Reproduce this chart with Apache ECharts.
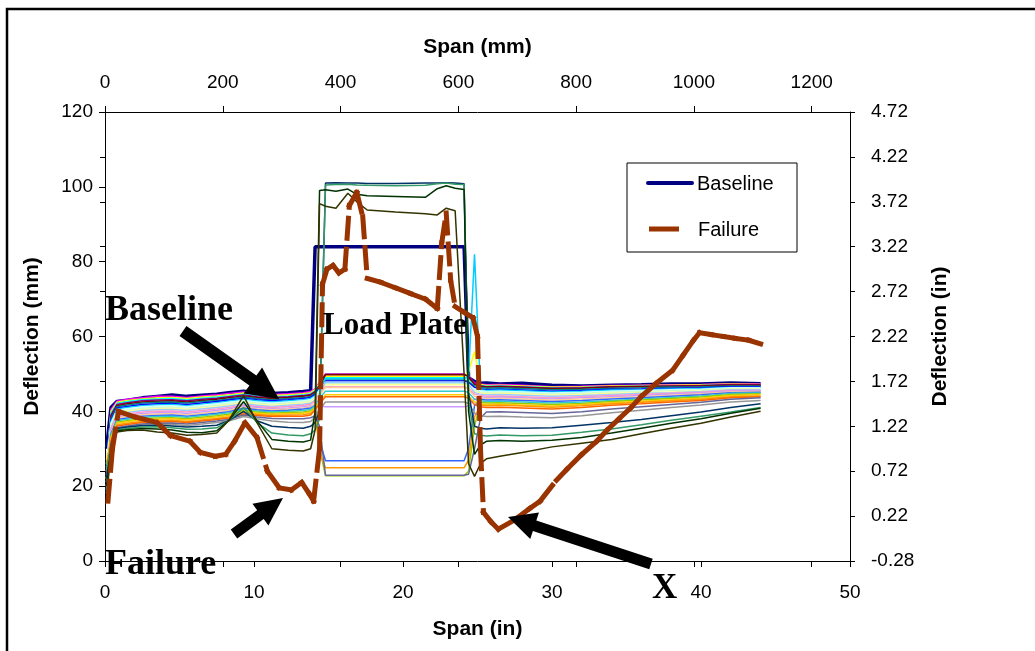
<!DOCTYPE html>
<html>
<head>
<meta charset="utf-8">
<script src="https://cdn.jsdelivr.net/npm/echarts@6/dist/echarts.min.js"></script>
<style>
  html, body { margin: 0; padding: 0; background: #fff; }
  #chart { width: 1035px; height: 651px; }
</style>
</head>
<body>
<div id="chart"></div>
<script>
// Span positions (in) shared by the baseline and the intermediate passes
const spanIn = [0.1, 0.4, 0.8, 1.5, 2.5, 3.5, 4.5, 5.5, 6.5, 7.5, 8.3, 9.3, 10.2, 11.2, 12.3, 13.3, 13.8, 14.1, 14.4, 14.8,
  15.5, 16.3, 16.9, 17.6, 19.5, 21.5, 22.3, 22.9, 23.5, 24.1, 24.4, 24.8, 25.2, 25.6, 26.5, 28.0, 30.0, 32.0, 34.0, 36.0,
  38.0, 40.0, 42.0, 44.0];

// Deflection (mm)
const baselineDefl = [30, 41, 42.6, 43.0, 43.6, 44.0, 44.4, 44.0, 44.3, 44.6, 45.0, 45.4, 45.0, 44.8, 45.0, 45.3, 45.5,
  84, 84, 84, 84, 84, 84, 84, 84, 84, 84, 84, 84, 84, 49, 48,
  47.5, 47.6, 47.3, 47.5, 47.0, 46.8, 47.0, 47.1, 47.3, 47.3, 47.6, 47.4];

const trace02 = [24, 40.5, 42.7, 43.2, 43.6, 44.0, 44.0, 43.7, 44.1, 44.4, 44.8, 45.2, 44.8, 44.5, 44.7, 45.0, 45.3, 46.0, 47.8,
  49.9, 49.9, 49.9, 49.9, 49.9, 49.9, 49.9, 49.9, 49.9, 49.9, 49.9, 49.4, 47.6,
  47.3, 47.1, 47.2, 47.0, 46.6, 46.7, 46.9, 47.0, 47.1, 47.2, 47.4, 47.3];
const trace03 = [22, 40.0, 42.4, 42.9, 43.3, 43.6, 43.7, 43.4, 43.8, 44.1, 44.4, 44.9, 44.5, 44.2, 44.4, 44.7, 45.0, 45.8, 47.5,
  49.4, 49.4, 49.4, 49.4, 49.4, 49.4, 49.4, 49.4, 49.4, 49.4, 49.4, 50.5, 56.0,
  47.2, 46.9, 47.0, 46.8, 46.5, 46.6, 46.8, 46.9, 47.0, 47.1, 47.3, 47.2];
const trace04 = [26, 39.5, 42.1, 42.6, 43.1, 43.3, 43.4, 43.1, 43.5, 43.8, 44.1, 44.6, 44.2, 43.9, 44.1, 44.4, 44.7, 45.5, 47.2,
  49.0, 49.0, 49.0, 49.0, 49.0, 49.0, 49.0, 49.0, 49.0, 49.0, 49.0, 48.5, 47.2,
  46.9, 46.7, 46.8, 46.6, 46.3, 46.4, 46.6, 46.7, 46.8, 46.9, 47.1, 47.0];
const trace05 = [20, 39.0, 41.8, 42.3, 42.8, 43.0, 43.1, 42.8, 43.2, 43.5, 43.9, 44.4, 43.9, 43.7, 43.9, 44.2, 44.5, 45.3, 47.0,
  49.9, 49.9, 49.9, 49.9, 49.9, 49.9, 49.9, 49.9, 49.9, 49.9, 49.9, 49.3, 47.4,
  46.8, 46.6, 46.7, 46.5, 46.2, 46.3, 46.6, 46.7, 46.8, 46.9, 47.2, 47.1];
const trace06 = [23, 38.5, 41.5, 42.0, 42.5, 42.7, 42.8, 42.5, 42.9, 43.2, 43.6, 44.1, 43.7, 43.4, 43.7, 44.0, 44.3, 45.1, 46.8,
  49.8, 49.8, 49.8, 49.8, 49.8, 49.8, 49.8, 49.8, 49.8, 49.8, 49.8, 49.2, 47.2,
  46.7, 46.5, 46.6, 46.4, 46.1, 46.2, 46.5, 46.6, 46.7, 46.8, 47.0, 47.0];
const trace07 = [21, 38.0, 41.2, 41.7, 42.2, 42.4, 42.5, 42.2, 42.6, 42.9, 43.3, 43.8, 43.4, 43.1, 43.4, 43.7, 44.0, 44.8, 46.5,
  48.4, 48.4, 48.4, 48.4, 48.4, 48.4, 48.4, 48.4, 48.4, 48.4, 48.4, 47.9, 46.8,
  46.4, 46.2, 46.3, 46.1, 45.8, 45.9, 46.2, 46.3, 46.5, 46.6, 46.8, 46.8];
const trace08 = [25, 37.6, 40.9, 41.3, 41.8, 42.0, 42.1, 41.8, 42.2, 42.6, 43.0, 43.5, 43.1, 42.8, 43.1, 43.4, 43.7, 44.5, 46.3,
  48.1, 48.1, 48.1, 48.1, 48.1, 48.1, 48.1, 48.1, 48.1, 48.1, 48.1, 47.6, 46.4,
  46.0, 45.8, 45.9, 45.7, 45.4, 45.6, 45.9, 46.0, 46.2, 46.3, 46.6, 46.6];
const trace09 = [19, 37.2, 40.6, 41.0, 41.5, 41.7, 41.8, 41.5, 41.9, 42.3, 42.7, 43.2, 42.8, 42.5, 42.8, 43.1, 43.4, 44.2, 46.0,
  48.7, 48.7, 48.7, 48.7, 48.7, 48.7, 48.7, 48.7, 48.7, 48.7, 48.7, 49.5, 82.0,
  45.8, 45.6, 45.7, 45.5, 45.2, 45.4, 45.7, 45.8, 46.0, 46.1, 46.4, 46.4];
const trace10 = [24, 36.8, 40.3, 40.7, 41.2, 41.4, 41.5, 41.2, 41.6, 42.0, 42.4, 42.9, 42.5, 42.2, 42.5, 42.8, 43.1, 43.9, 45.7,
  47.8, 47.8, 47.8, 47.8, 47.8, 47.8, 47.8, 47.8, 47.8, 47.8, 47.8, 47.3, 45.8,
  45.5, 45.3, 45.4, 45.2, 44.9, 45.1, 45.4, 45.6, 45.8, 45.9, 46.3, 46.3];
const trace11 = [22, 36.4, 39.9, 40.3, 40.8, 41.0, 41.1, 40.8, 41.2, 41.6, 42.0, 42.6, 42.2, 41.9, 42.2, 42.5, 42.8, 43.6, 45.4,
  47.4, 47.4, 47.4, 47.4, 47.4, 47.4, 47.4, 47.4, 47.4, 47.4, 47.4, 46.9, 45.5,
  45.2, 45.0, 45.1, 44.9, 44.6, 44.8, 45.1, 45.3, 45.5, 45.7, 46.1, 46.1];
const trace12 = [27, 36.0, 39.6, 40.0, 40.5, 40.7, 40.8, 40.5, 40.9, 41.3, 41.7, 42.3, 41.9, 41.6, 41.9, 42.2, 42.5, 43.3, 45.1,
  47.1, 47.1, 47.1, 47.1, 47.1, 47.1, 47.1, 47.1, 47.1, 47.1, 47.1, 46.6, 45.2,
  44.9, 44.7, 44.8, 44.6, 44.3, 44.5, 44.8, 45.0, 45.2, 45.5, 45.9, 45.9];
const trace13 = [20, 35.6, 39.3, 39.7, 40.2, 40.4, 40.5, 40.2, 40.6, 41.0, 41.4, 42.0, 41.6, 41.3, 41.6, 41.9, 42.2, 43.0, 44.8,
  47.7, 47.7, 47.7, 47.7, 47.7, 47.7, 47.7, 47.7, 47.7, 47.7, 47.7, 47.2, 45.0,
  44.6, 44.4, 44.5, 44.3, 44.0, 44.2, 44.5, 44.8, 45.0, 45.3, 45.8, 45.8];
const trace14 = [23, 35.2, 38.9, 39.3, 39.8, 40.0, 40.1, 39.8, 40.2, 40.6, 41.0, 41.7, 41.3, 41.0, 41.3, 41.6, 41.9, 42.7, 44.5,
  46.6, 46.6, 46.6, 46.6, 46.6, 46.6, 46.6, 46.6, 46.6, 46.6, 46.6, 46.1, 44.6,
  44.2, 44.0, 44.1, 43.9, 43.6, 43.9, 44.2, 44.5, 44.8, 45.1, 45.6, 45.6];
const trace15 = [18, 34.8, 38.5, 38.9, 39.4, 39.6, 39.7, 39.4, 39.8, 40.2, 40.6, 41.4, 41.0, 40.7, 40.9, 41.2, 41.5, 41.5, 41.4,
  41.2, 41.2, 41.2, 41.2, 41.2, 41.2, 41.2, 41.2, 41.2, 41.2, 41.2, 41.5, 43.2,
  43.9, 43.7, 43.8, 43.6, 43.3, 43.6, 43.9, 44.2, 44.6, 44.9, 45.4, 45.5];
const trace16 = [25, 34.4, 38.2, 38.6, 39.1, 39.3, 39.4, 39.1, 39.5, 39.9, 40.3, 41.1, 40.7, 40.4, 40.6, 40.9, 41.2, 42.2, 44.2,
  46.4, 46.4, 46.4, 46.4, 46.4, 46.4, 46.4, 46.4, 46.4, 46.4, 46.4, 45.9, 44.0,
  43.6, 43.4, 43.5, 43.3, 43.0, 43.3, 43.6, 43.9, 44.3, 44.7, 45.2, 45.3];
const trace17 = [21, 34.0, 37.8, 38.2, 38.7, 38.9, 39.0, 38.7, 39.1, 39.5, 39.9, 40.8, 40.4, 40.1, 40.3, 40.6, 40.9, 41.5, 32.0,
  26.8, 26.8, 26.8, 26.8, 26.8, 26.8, 26.8, 26.8, 26.8, 26.8, 26.8, 30.0, 41.5,
  43.2, 43.0, 43.1, 42.9, 42.6, 42.9, 43.3, 43.6, 44.0, 44.4, 45.0, 45.1];
const trace18 = [19, 33.6, 37.5, 37.9, 38.4, 38.6, 38.7, 38.4, 38.8, 39.2, 39.6, 40.5, 40.1, 39.8, 40.0, 40.2, 40.5, 41.5, 43.5,
  45.4, 45.4, 45.4, 45.4, 45.4, 45.4, 45.4, 45.4, 45.4, 45.4, 45.4, 45.0, 43.2,
  42.8, 42.6, 42.7, 42.5, 42.2, 42.5, 42.9, 43.3, 43.7, 44.1, 44.8, 44.9];
const trace19 = [24, 33.2, 37.1, 37.5, 38.0, 38.2, 38.3, 38.0, 38.4, 38.8, 39.2, 40.2, 39.8, 39.5, 39.7, 39.8, 40.1, 41.0, 30.0,
  22.8, 22.8, 22.8, 22.8, 22.8, 22.8, 22.8, 22.8, 22.8, 22.8, 22.8, 24.0, 36.0,
  42.4, 42.2, 42.3, 42.1, 41.8, 42.1, 42.6, 43.0, 43.4, 43.8, 44.5, 44.7];
const trace20 = [22, 32.8, 36.8, 37.2, 37.7, 37.9, 38.0, 37.7, 38.1, 38.5, 38.9, 39.9, 39.5, 39.2, 39.4, 39.5, 39.8, 40.8, 42.6,
  44.4, 44.4, 44.4, 44.4, 44.4, 44.4, 44.4, 44.4, 44.4, 44.4, 44.4, 44.0, 42.5,
  42.0, 41.8, 41.9, 41.7, 41.4, 41.8, 42.3, 42.7, 43.1, 43.5, 44.2, 44.4];
const trace21 = [26, 32.4, 36.4, 36.8, 37.3, 37.5, 37.6, 37.3, 37.7, 38.1, 38.5, 39.6, 39.2, 38.9, 39.0, 39.1, 39.4, 40.2, 29.0,
  24.9, 24.9, 24.9, 24.9, 24.9, 24.9, 24.9, 24.9, 24.9, 24.9, 24.9, 27.0, 38.5,
  41.7, 41.5, 41.6, 41.4, 41.1, 41.5, 42.0, 42.4, 42.8, 43.2, 43.9, 44.1];
const trace22 = [20, 32.0, 36.1, 36.5, 37.0, 37.2, 37.3, 37.0, 37.4, 37.8, 38.2, 39.3, 38.9, 38.6, 38.7, 38.7, 39.0, 40.5, 42.0,
  43.9, 43.9, 43.9, 43.9, 43.9, 43.9, 43.9, 43.9, 43.9, 43.9, 43.9, 43.5, 41.8,
  41.2, 41.0, 41.1, 40.9, 40.6, 41.0, 41.6, 42.0, 42.5, 42.9, 43.6, 43.9];
const trace23 = [23, 31.6, 35.7, 36.1, 36.6, 36.8, 36.9, 36.6, 37.0, 37.4, 37.8, 39.0, 38.5, 38.1, 38.0, 38.0, 38.3, 38.8, 36.0,
  22.9, 22.9, 22.9, 22.9, 22.9, 22.9, 22.9, 22.9, 22.9, 22.9, 22.9, 23.2, 30.0,
  38.2, 39.8, 39.9, 39.7, 39.4, 39.9, 40.6, 41.2, 41.8, 42.4, 43.2, 43.6];
const trace24 = [21, 31.2, 35.3, 35.7, 36.2, 36.4, 36.5, 36.2, 36.6, 37.0, 37.4, 38.6, 38.0, 37.4, 37.1, 37.0, 37.3, 38.5, 40.5,
  42.5, 42.5, 42.5, 42.5, 42.5, 42.5, 42.5, 42.5, 42.5, 42.5, 42.5, 42.1, 39.5,
  38.8, 38.6, 38.7, 38.5, 38.3, 38.8, 39.6, 40.3, 41.0, 41.7, 42.5, 42.9];
const trace25 = [22, 31, 35.4, 35.8, 36.2, 36.3, 36.1, 35.8, 36.0, 36.3, 37.5, 40.0, 37.5, 36.0, 35.7, 35.5, 36.0, 37.0, 40.0,
  101.0, 101.1, 101.0, 101.0, 100.9, 100.9, 101.0, 101.0, 101.1, 101.0, 100.8, 45.0, 36.0,
  35.5, 35.3, 35.6, 35.5, 35.6, 36.3, 37.0, 37.8, 38.8, 39.8, 41.0, 42.0];
const trace26 = [25, 30.5, 35.0, 35.4, 35.8, 35.9, 35.6, 35.2, 35.3, 35.6, 37.5, 41.0, 37.0, 34.2, 33.7, 33.5, 34.0, 35.0, 38.0,
  100.5, 100.6, 100.7, 100.5, 100.4, 100.3, 100.4, 100.8, 101.0, 100.7, 100.6, 42.0, 34.0,
  33.6, 33.4, 33.7, 33.5, 33.6, 34.4, 35.3, 36.4, 37.6, 38.7, 39.8, 41.0];
const trace27 = [20, 30, 34.8, 35.1, 35.4, 35.3, 35.0, 34.4, 34.3, 34.8, 37.5, 42.6, 37.5, 32.5, 32.0, 31.8, 32.3, 40.0, 99.0,
  99.2, 98.8, 99.4, 98.0, 97.6, 97.4, 97.2, 99.5, 100.3, 99.6, 99.3, 40.0, 28.5,
  31.0, 32.0, 32.2, 32.0, 32.3, 33.0, 34.2, 35.5, 36.8, 38.0, 39.5, 40.8];
const trace28 = [17, 29, 34.5, 34.9, 35.0, 34.5, 34.2, 33.6, 33.8, 34.2, 37.5, 44.2, 37.0, 30.0, 29.6, 29.4, 30.0, 35.0, 95.5,
  94.8, 94.3, 98.3, 96.0, 93.8, 93.3, 92.8, 92.5, 94.3, 93.6, 50.0, 26.0, 22.6,
  26.0, 27.3, 28.0, 29.0, 30.5, 31.5, 32.5, 34.0, 35.5, 36.8, 38.5, 40.0];

// Failure pass: its own span stations (in) and deflections (mm)
const failureSpan = [0.2, 0.5, 0.9, 2.0, 3.5, 4.4, 5.7, 6.4, 7.4, 8.1, 8.7, 9.4, 10.2, 10.9, 11.7, 12.5, 13.2, 13.7, 14.0,
  14.4, 14.6, 14.9, 15.3, 15.7, 16.1, 16.4, 16.9, 17.3, 17.6, 18.5, 19.5, 20.5, 21.5, 22.3, 22.6, 22.9, 23.2, 23.5, 24.1,
  24.7, 25.0, 25.2, 25.4, 25.9, 26.4, 27.5, 28.5, 29.2, 30.3, 31.0, 32.0, 33.0, 33.7, 34.5, 35.3, 36.0, 37.0, 38.1, 38.8,
  39.5, 39.9, 40.7, 41.5, 42.3, 43.2, 44.0];
const failureDefl = [16, 30, 40, 38.5, 37, 33.5, 32, 29, 28, 28.5, 32, 37, 33, 24, 19.5, 19, 21, 18, 16,
  30, 74, 78, 79, 77, 78, 95, 98.5, 92, 75.5, 74.5, 73, 71.5, 70, 67.5, 85, 93, 75, 68, 66.5,
  65, 60, 30, 13, 10.5, 8.5, 11, 14, 16, 21.6, 24.5, 28.5, 32, 35, 38, 41, 44, 47.5, 51, 55,
  59, 61, 60.5, 60, 59.5, 59, 58];

// Axis tick labels
const spanInTicks = [0, 10, 20, 30, 40, 50];
const spanMmTicks = [0, 200, 400, 600, 800, 1000, 1200];
const deflMmTicks = [0, 20, 40, 60, 80, 100, 120];
const deflInTicks = ['-0.28', '0.22', '0.72', '1.22', '1.72', '2.22', '2.72', '3.22', '3.72', '4.22', '4.72'];

const traceColors = ['#FF00FF', '#FFFF00', '#00FFFF', '#800080', '#800000', '#008080', '#0000FF', '#00CCFF', '#CCFFFF',
  '#CCFFCC', '#FFFF99', '#99CCFF', '#FF99CC', '#CC99FF', '#FFCC99', '#3366FF', '#33CCCC', '#99CC00', '#FFCC00', '#FF9900',
  '#FF6600', '#666699', '#969696', '#003366', '#339966', '#003300', '#333300'];
const traces = [trace02, trace03, trace04, trace05, trace06, trace07, trace08, trace09, trace10, trace11, trace12, trace13,
  trace14, trace15, trace16, trace17, trace18, trace19, trace20, trace21, trace22, trace23, trace24, trace25, trace26,
  trace27, trace28];

const SANS = '"Liberation Sans", Arial, sans-serif';
const SERIF = '"Liberation Serif", "Times New Roman", serif';

function pairs(xs, ys) { return xs.map((x, i) => [x, ys[i]]); }

const failureSegments = failureSpan.slice(0, -1).map((x, i) =>
  [x, failureDefl[i], failureSpan[i + 1], failureDefl[i + 1]]);

// block arrow outline from tail to tip
function arrowPoints(tail, tip, shaftW, headL, headW) {
  const dx = tip[0] - tail[0], dy = tip[1] - tail[1];
  const len = Math.hypot(dx, dy);
  const ux = dx / len, uy = dy / len, px = -uy, py = ux;
  const bx = tip[0] - ux * headL, by = tip[1] - uy * headL;
  return [
    [tail[0] + px * shaftW / 2, tail[1] + py * shaftW / 2],
    [bx + px * shaftW / 2, by + py * shaftW / 2],
    [bx + px * headW / 2, by + py * headW / 2],
    [tip[0], tip[1]],
    [bx - px * headW / 2, by - py * headW / 2],
    [bx - px * shaftW / 2, by - py * shaftW / 2],
    [tail[0] - px * shaftW / 2, tail[1] - py * shaftW / 2]
  ];
}
function arrow(tail, tip, shaftW, headL, headW) {
  return { type: 'polygon', z: 100, shape: { points: arrowPoints(tail, tip, shaftW, headL, headW) }, style: { fill: '#000' } };
}
function label(text, x, y, size) {
  return { type: 'text', z: 100, x: x, y: y,
    style: { text: text, font: 'bold ' + size + 'px ' + SERIF, fill: '#000', verticalAlign: 'middle', align: 'left' } };
}

const tickFont = { fontFamily: SANS, fontSize: 19, color: '#000' };
const titleFont = { fontFamily: SANS, fontSize: 21, fontWeight: 'bold', color: '#000' };
const axisLine = { show: true, onZero: false, lineStyle: { color: '#000', width: 1 } };

const series = [{
  name: 'Baseline', type: 'line', xAxisIndex: 0, yAxisIndex: 0,
  data: pairs(spanIn, baselineDefl), showSymbol: false, symbol: 'none',
  lineStyle: { color: '#000080', width: 3.5 }, z: 2
}];
traces.forEach((t, i) => {
  series.push({
    name: 'Run ' + (i + 2), type: 'line', xAxisIndex: 0, yAxisIndex: 0,
    data: pairs(spanIn, t), showSymbol: false, symbol: 'none',
    lineStyle: { color: traceColors[i], width: 1.5 }, z: 3
  });
});
series.push({
  name: 'Failure', type: 'custom', xAxisIndex: 0, yAxisIndex: 0, z: 5,
  encode: { x: [0, 2], y: [1, 3] },
  data: failureSegments,
  renderItem: function (params, api) {
    const a = api.coord([api.value(0), api.value(1)]);
    const b = api.coord([api.value(2), api.value(3)]);
    return { type: 'line', shape: { x1: a[0], y1: a[1], x2: b[0], y2: b[1] },
      style: { stroke: '#993300', lineWidth: 5, lineDash: [20, 11], lineCap: 'square', fill: null } };
  }
});

const chart = echarts.init(document.getElementById('chart'), null, { renderer: 'canvas' });
chart.setOption({
  animation: false,
  backgroundColor: '#fff',
  grid: { left: 105, right: 185, top: 112, bottom: 90, containLabel: false },
  xAxis: [
    { type: 'value', position: 'bottom', min: spanInTicks[0], max: spanInTicks[spanInTicks.length - 1], interval: 10,
      name: 'Span (in)', nameLocation: 'middle', nameGap: 58, nameTextStyle: titleFont,
      axisLine: axisLine, axisTick: { show: true, length: 6, lineStyle: { color: '#000' } },
      axisLabel: Object.assign({ margin: 22 }, tickFont), splitLine: { show: false } },
    { type: 'value', position: 'top', min: 0, max: 1265, interval: 200,
      name: 'Span (mm)', nameLocation: 'middle', nameGap: 54, nameTextStyle: titleFont,
      axisLine: axisLine, axisTick: { show: true, length: 6, lineStyle: { color: '#000' } },
      axisLabel: Object.assign({ margin: 20, showMaxLabel: false,
        formatter: v => spanMmTicks.indexOf(v) >= 0 ? String(v) : '' }, tickFont), splitLine: { show: false } },
    { type: 'value', position: 'top', min: 0, max: 1265, interval: 200,
      axisLine: { show: false }, axisTick: { show: true, inside: true, length: 6, lineStyle: { color: '#000' } },
      axisLabel: { show: false }, splitLine: { show: false } }
  ],
  yAxis: [
    { type: 'value', position: 'left', min: deflMmTicks[0], max: deflMmTicks[deflMmTicks.length - 1], interval: 20,
      name: 'Deflection (mm)', nameLocation: 'middle', nameGap: 62, nameRotate: 90, nameTextStyle: titleFont,
      axisLine: axisLine, axisTick: { show: true, length: 6, lineStyle: { color: '#000' } },
      axisLabel: Object.assign({ margin: 12 }, tickFont), splitLine: { show: false } },
    { type: 'value', position: 'right', min: 0, max: 5, interval: 0.5,
      name: 'Deflection (in)', nameLocation: 'middle', nameGap: 80, nameRotate: 90, nameTextStyle: titleFont,
      axisLine: axisLine, axisTick: { show: true, length: 5, lineStyle: { color: '#000' } },
      axisLabel: Object.assign({ margin: 21, formatter: v => deflInTicks[Math.round(v / 0.5)] }, tickFont),
      splitLine: { show: false } },
    { type: 'value', position: 'right', min: 0, max: 5, interval: 0.5,
      axisLine: { show: false }, axisTick: { show: true, inside: true, length: 5, lineStyle: { color: '#000' } },
      axisLabel: { show: false }, splitLine: { show: false } }
  ],
  series: series,
  graphic: [
    { type: 'rect', z: 90, shape: { x: 7, y: 9, width: 1100, height: 700 },
      style: { fill: null, stroke: '#000', lineWidth: 2.5 } },
    // legend box
    { type: 'rect', z: 95, shape: { x: 627, y: 163, width: 170, height: 89 },
      style: { fill: '#fff', stroke: '#000', lineWidth: 1 } },
    { type: 'line', z: 96, shape: { x1: 648, y1: 183, x2: 692, y2: 183 },
      style: { stroke: '#000080', lineWidth: 4, lineCap: 'round' } },
    { type: 'text', z: 96, x: 697, y: 184,
      style: { text: 'Baseline', font: '20px ' + SANS, fill: '#000', verticalAlign: 'middle' } },
    { type: 'line', z: 96, shape: { x1: 649, y1: 229, x2: 679, y2: 229 },
      style: { stroke: '#993300', lineWidth: 5 } },
    { type: 'text', z: 96, x: 698, y: 230,
      style: { text: 'Failure', font: '20px ' + SANS, fill: '#000', verticalAlign: 'middle' } },
    // annotations
    label('Baseline', 105, 311, 36),
    label('Load Plate', 323, 326, 31),
    label('Failure', 105, 565, 36),
    label('X', 652, 589, 35),
    arrow([183, 331], [279, 399], 12, 32, 32),
    arrow([234, 534], [283, 498], 11, 28, 27),
    arrow([651, 564], [508, 517], 11, 28, 28)
  ]
});
</script>
</body>
</html>
